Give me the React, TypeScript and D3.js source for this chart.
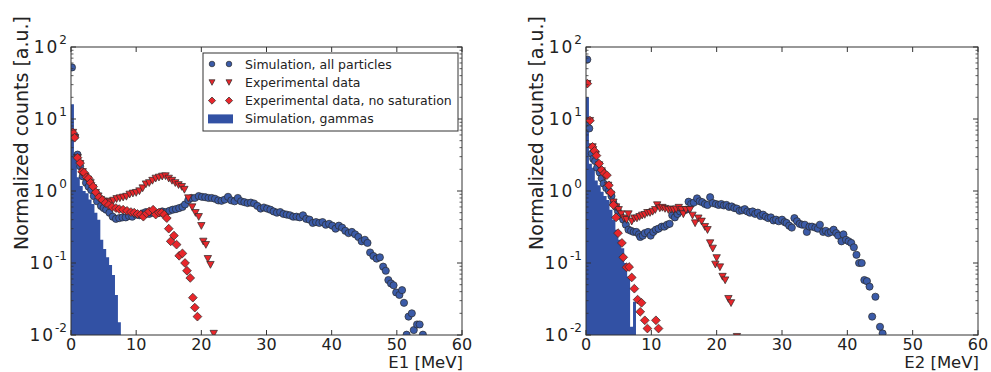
import React from "react";
import * as d3 from "d3";

// ---------- DATA ----------
// Left panel (E1)
const simE1: number[] = [0.15,0.6,1.0,1.4,1.8,2.3,2.7,3.1,3.5,4.0,4.6,5.0,5.4,5.9,6.4,6.9,7.4,7.9,8.4,8.9,9.4,10.0,10.5,11.0,11.5,12.0,12.5,13.0,13.5,14.0,14.6,15.1,15.6,16.1,16.6,17.1,17.5,18.0,18.5,19.0,19.6,20.1,20.6,21.1,21.6,22.1,22.6,23.1,23.6,24.1,24.6,25.1,25.6,26.1,26.6,27.1,27.6,28.1,28.6,29.1,29.6,30.1,30.6,31.1,31.6,32.1,32.6,33.1,33.6,34.1,34.6,35.1,35.6,36.1,36.6,37.1,37.6,38.1,38.6,39.1,39.6,40.1,40.6,41.1,41.6,42.1,42.6,43.1,43.6,44.1,44.6,45.1,45.5,45.9,46.4,46.9,47.4,47.9,48.3,48.7,49.1,49.5,49.9,50.4,50.8,51.1,51.5,51.8,52.3,52.6,53.1,53.5,54.0];
const simV1: number[] = [52,5.8,3.2,2.2,1.6,1.3,1.15,1.03,0.85,0.72,0.62,0.58,0.55,0.5,0.44,0.41,0.42,0.43,0.43,0.45,0.44,0.47,0.46,0.49,0.51,0.48,0.5,0.49,0.5,0.52,0.51,0.53,0.55,0.56,0.58,0.6,0.65,0.75,0.8,0.8,0.85,0.83,0.82,0.8,0.8,0.78,0.74,0.73,0.76,0.83,0.74,0.72,0.8,0.72,0.7,0.68,0.69,0.67,0.62,0.57,0.59,0.57,0.55,0.52,0.5,0.51,0.48,0.47,0.46,0.44,0.44,0.43,0.46,0.41,0.4,0.36,0.37,0.36,0.37,0.34,0.35,0.33,0.3,0.33,0.31,0.28,0.26,0.27,0.25,0.23,0.2,0.21,0.19,0.14,0.125,0.115,0.12,0.089,0.078,0.058,0.052,0.049,0.039,0.036,0.042,0.028,0.0101,0.018,0.02,0.0117,0.014,0.014,0.0101];

const expE1: number[] = [0.3,0.6,1.0,1.4,1.8,2.2,2.6,3.0,3.4,3.8,4.2,4.6,5.0,5.5,6.0,6.5,7.0,7.5,8.0,8.5,9.0,9.5,10.0,10.5,11.0,11.5,12.0,12.5,13.0,13.5,14.0,14.5,15.0,15.5,16.0,16.5,17.0,17.4,18.0,18.6,19.1,19.6,20.0,20.3,20.7,21.0,21.4,21.9];
const expV1: number[] = [6.5,5.5,2.9,2.4,1.85,1.6,1.45,1.3,1.1,0.95,0.85,0.76,0.72,0.72,0.7,0.74,0.78,0.8,0.82,0.84,0.9,0.93,0.95,1.0,1.1,1.25,1.3,1.4,1.5,1.55,1.6,1.62,1.5,1.4,1.3,1.22,1.15,1.05,0.8,0.6,0.5,0.44,0.33,0.2,0.18,0.115,0.095,0.0105];

const nsE1: number[] = [0.25,0.55,1.0,1.4,1.7,2.0,2.4,2.7,3.0,3.4,3.8,4.3,4.8,5.3,5.8,6.3,6.9,7.4,8.0,8.6,9.2,9.7,10.2,10.7,11.1,11.6,12.0,12.6,13.0,13.5,13.9,14.3,14.7,15.0,15.3,15.8,16.2,16.6,17.1,17.5,17.8,18.3,18.7,19.0,19.4];
const nsV1: number[] = [6.5,5.5,2.9,2.45,1.85,1.8,1.55,1.5,1.3,1.15,0.96,0.82,0.75,0.68,0.64,0.6,0.58,0.56,0.55,0.53,0.51,0.5,0.48,0.47,0.44,0.49,0.52,0.55,0.47,0.5,0.5,0.47,0.42,0.3,0.2,0.24,0.18,0.126,0.136,0.1,0.078,0.062,0.033,0.024,0.018];

const gammaBinWidth = 0.45;
const gammaV1: number[] = [16,3.3,1.55,1.17,1.0,0.93,0.76,0.66,0.5,0.4,0.21,0.157,0.12,0.094,0.068,0.036,0.015];

// Right panel (E2)
const simE2: number[] = [0.2,0.5,0.9,1.1,1.4,1.7,2.1,2.4,2.7,3.1,3.5,3.9,4.2,4.6,4.9,5.3,5.7,6.1,6.5,6.9,7.3,7.7,8.1,8.3,8.7,9.0,9.5,9.9,10.3,10.7,11.1,11.6,12.0,12.4,12.8,13.2,13.6,14.0,14.4,14.9,15.3,15.7,16.1,16.5,17.0,17.4,17.8,18.2,18.6,19.0,19.4,19.9,20.3,20.7,21.1,21.5,21.9,22.3,22.7,23.1,23.5,23.9,24.3,24.7,25.1,25.5,25.9,26.3,26.7,27.1,27.5,27.9,28.3,28.7,29.1,29.5,30.0,30.4,30.7,31.1,31.5,31.9,32.3,32.7,33.1,33.5,33.8,34.2,34.6,35.1,35.5,35.8,36.3,36.7,37.1,37.5,37.9,38.3,38.6,39.1,39.4,39.8,40.2,40.6,41.0,41.4,41.8,42.2,42.6,43.0,43.4,43.8,44.3,45.0,45.4];
const simV2: number[] = [67,7.4,3.3,2.8,2.6,2.1,1.8,1.5,1.27,1.1,1.0,0.85,0.68,0.6,0.52,0.45,0.4,0.34,0.29,0.28,0.27,0.27,0.25,0.23,0.24,0.26,0.27,0.24,0.27,0.29,0.3,0.32,0.32,0.34,0.35,0.46,0.43,0.48,0.52,0.54,0.55,0.71,0.66,0.69,0.79,0.72,0.7,0.66,0.64,0.82,0.68,0.66,0.64,0.66,0.63,0.64,0.6,0.61,0.58,0.57,0.53,0.54,0.56,0.52,0.5,0.52,0.48,0.5,0.45,0.47,0.44,0.42,0.43,0.39,0.4,0.38,0.4,0.37,0.36,0.33,0.31,0.42,0.38,0.35,0.34,0.34,0.27,0.32,0.32,0.31,0.3,0.34,0.27,0.28,0.26,0.27,0.29,0.26,0.24,0.2,0.25,0.21,0.2,0.19,0.165,0.13,0.1,0.1,0.058,0.056,0.047,0.018,0.034,0.013,0.0105];

const expE2: number[] = [0.2,0.6,1.0,1.5,2.0,2.4,2.9,3.4,3.8,4.2,4.6,5.0,5.4,5.8,6.2,6.5,7.0,7.4,7.8,8.2,8.6,9.0,9.4,9.8,10.2,10.6,10.9,11.3,11.7,12.1,12.6,13.0,13.4,13.8,14.2,14.6,14.9,15.3,15.9,16.3,16.7,17.2,17.7,18.2,18.6,19.0,19.4,19.8,20.0,20.5,20.9,21.3,21.8,22.2,23.1];
const expV2: number[] = [31,9.5,4.1,3.2,2.3,1.9,1.6,1.2,0.9,0.7,0.6,0.55,0.48,0.42,0.4,0.48,0.38,0.42,0.42,0.44,0.46,0.47,0.5,0.5,0.52,0.55,0.64,0.58,0.59,0.57,0.55,0.56,0.55,0.56,0.59,0.55,0.48,0.55,0.55,0.46,0.36,0.42,0.38,0.32,0.29,0.19,0.16,0.096,0.118,0.088,0.065,0.058,0.032,0.028,0.0095];

const nsE2: number[] = [0.2,0.6,1.0,1.3,1.6,2.0,2.4,2.8,3.2,3.5,3.8,4.2,4.6,4.9,5.5,5.7,6.2,6.6,7.0,7.4,7.9,8.3,8.5,9.0,9.4,10.7,11.1];
const nsV2: number[] = [31,9.5,4.1,3.6,3.1,2.4,1.95,1.75,1.66,1.2,0.95,0.64,0.43,0.26,0.19,0.12,0.087,0.088,0.063,0.044,0.031,0.021,0.028,0.016,0.0123,0.016,0.0123];

const gammaV2: number[] = [20,2.4,2.1,1.4,1.2,0.98,0.85,0.75,0.55,0.4,0.29,0.21,0.16,0.1,0.065,0.013,0.029];

const xTicks: number[] = [0, 10, 20, 30, 40, 50, 60];
const yDecades: number[] = [-2, -1, 0, 1, 2];

const legendLabels: string[] = [
  "Simulation, all particles",
  "Experimental data",
  "Experimental data, no saturation",
  "Simulation, gammas",
];

// ---------- STYLE ----------
const BLUE = "#3b5ba8";
const HIST = "#3251a4";
const RED = "#e8262b";
const EDGE = "#2a2a2a";
const AXIS = "#333333";
const FONT = "'DejaVu Sans', sans-serif";

type PanelProps = {
  left: number;
  right: number;
  top: number;
  bottom: number;
  id: string;
  xLabel: string;
  simE: number[];
  simV: number[];
  expE: number[];
  expV: number[];
  nsE: number[];
  nsV: number[];
  gamma: number[];
  legend: boolean;
};

function circle(cx: number, cy: number, r: number, key: string | number) {
  return <circle key={key} cx={cx} cy={cy} r={r} fill={BLUE} stroke={EDGE} strokeWidth={0.7} />;
}
function tri(cx: number, cy: number, s: number, key: string | number) {
  const p = `${cx - s},${cy - s * 0.85} ${cx + s},${cy - s * 0.85} ${cx},${cy + s}`;
  return <polygon key={key} points={p} fill={RED} stroke={EDGE} strokeWidth={0.7} />;
}
function diamond(cx: number, cy: number, s: number, key: string | number) {
  const p = `${cx},${cy - s} ${cx + s},${cy} ${cx},${cy + s} ${cx - s},${cy}`;
  return <polygon key={key} points={p} fill={RED} stroke={EDGE} strokeWidth={0.7} />;
}

function Panel(p: PanelProps) {
  const x = d3.scaleLinear().domain([0, 60]).range([p.left, p.right]);
  const y = d3.scaleLog().domain([0.01, 100]).range([p.bottom, p.top]);
  const minor: number[] = [];
  for (let d = -2; d < 2; d++) for (let m = 2; m <= 9; m++) minor.push(m * Math.pow(10, d));

  const histPts: [number, number][] = p.gamma.map((v, i) => [i * gammaBinWidth, v]);
  histPts.push([p.gamma.length * gammaBinWidth, p.gamma[p.gamma.length - 1]]);
  const histArea = d3
    .area<[number, number]>()
    .x((d) => x(d[0]))
    .y0(p.bottom)
    .y1((d) => y(d[1]))
    .curve(d3.curveStepAfter);

  const lx = p.left + 132;
  const legendTop = 53;
  const rowH = 18.3;

  return (
    <g>
      <defs>
        <clipPath id={p.id}>
          <rect x={p.left} y={p.top} width={p.right - p.left} height={p.bottom - p.top} />
        </clipPath>
      </defs>
      <g clipPath={`url(#${p.id})`}>
        <path d={histArea(histPts) || ""} fill={HIST} />
        {p.simE.map((e, i) => circle(x(e), y(p.simV[i]), 3.6, "c" + i))}
        {p.expE.map((e, i) => tri(x(e), y(p.expV[i]), 3.7, "t" + i))}
        {p.nsE.map((e, i) => diamond(x(e), y(p.nsV[i]), 4.4, "d" + i))}
      </g>
      {/* frame */}
      <rect x={p.left} y={p.top} width={p.right - p.left} height={p.bottom - p.top} fill="none" stroke={AXIS} strokeWidth={1} />
      {/* x ticks */}
      {xTicks.map((t) => (
        <g key={"xt" + t}>
          <line x1={x(t)} x2={x(t)} y1={p.bottom} y2={p.bottom - 5} stroke={AXIS} />
          <line x1={x(t)} x2={x(t)} y1={p.top} y2={p.top + 5} stroke={AXIS} />
          <text x={x(t)} y={p.bottom + 15} fontSize={16} fontFamily={FONT} textAnchor="middle" fill="#222">
            {t}
          </text>
        </g>
      ))}
      {/* y ticks */}
      {yDecades.map((d) => {
        const yy = y(Math.pow(10, d));
        return (
          <g key={"yt" + d}>
            <line x1={p.left} x2={p.left + 5} y1={yy} y2={yy} stroke={AXIS} />
            <line x1={p.right} x2={p.right - 5} y1={yy} y2={yy} stroke={AXIS} />
            <text x={p.left - 4} y={yy + 6} fontSize={17} fontFamily={FONT} textAnchor="end" fill="#222">
              <tspan letterSpacing={2}>10</tspan>
              <tspan fontSize={12} dy={-9}>{d}</tspan>
            </text>
          </g>
        );
      })}
      {minor.map((m, i) => {
        const yy = y(m);
        return (
          <g key={"mn" + i}>
            <line x1={p.left} x2={p.left + 2.5} y1={yy} y2={yy} stroke={AXIS} strokeWidth={0.8} />
            <line x1={p.right} x2={p.right - 2.5} y1={yy} y2={yy} stroke={AXIS} strokeWidth={0.8} />
          </g>
        );
      })}
      {/* axis labels */}
      <text
        transform={`translate(${p.left - 43},133) rotate(-90)`}
        fontSize={19}
        fontFamily={FONT}
        textAnchor="middle"
        fill="#222"
      >
        Normalized counts [a.u.]
      </text>
      <text x={p.right + 1} y={367.5} fontSize={16.5} fontFamily={FONT} textAnchor="end" fill="#222">
        {p.xLabel}
      </text>
      {p.legend && (
        <g>
          <rect x={lx} y={legendTop} width={255} height={78} fill="#fff" stroke={AXIS} strokeWidth={1} />
          {circle(lx + 9, legendTop + 11, 2.8, "l1a")}
          {circle(lx + 26, legendTop + 11, 2.8, "l1b")}
          {tri(lx + 9, legendTop + 11 + rowH, 3, "l2a")}
          {tri(lx + 26, legendTop + 11 + rowH, 3, "l2b")}
          {diamond(lx + 9, legendTop + 11 + 2 * rowH, 3.6, "l3a")}
          {diamond(lx + 26, legendTop + 11 + 2 * rowH, 3.6, "l3b")}
          <rect x={lx + 5} y={legendTop + 11 + 3 * rowH - 4.5} width={25} height={9} fill={HIST} />
          {legendLabels.map((s, i) => (
            <text key={s} x={lx + 42} y={legendTop + 15.5 + i * rowH} fontSize={12.5} fontFamily={FONT} fill="#222">
              {s}
            </text>
          ))}
        </g>
      )}
    </g>
  );
}

export default function App() {
  return (
    <svg width={991} height={372} style={{ position: "absolute", left: 0, top: 0, background: "#fff" }}>
      <rect x={0} y={0} width={991} height={372} fill="#fff" />
      <Panel
        id="clipL" left={71} right={462} top={47} bottom={335} xLabel="E1 [MeV]"
        simE={simE1} simV={simV1} expE={expE1} expV={expV1} nsE={nsE1} nsV={nsV1} gamma={gammaV1} legend={true}
      />
      <Panel
        id="clipR" left={586} right={978} top={47} bottom={335} xLabel="E2 [MeV]"
        simE={simE2} simV={simV2} expE={expE2} expV={expV2} nsE={nsE2} nsV={nsV2} gamma={gammaV2} legend={false}
      />
    </svg>
  );
}
